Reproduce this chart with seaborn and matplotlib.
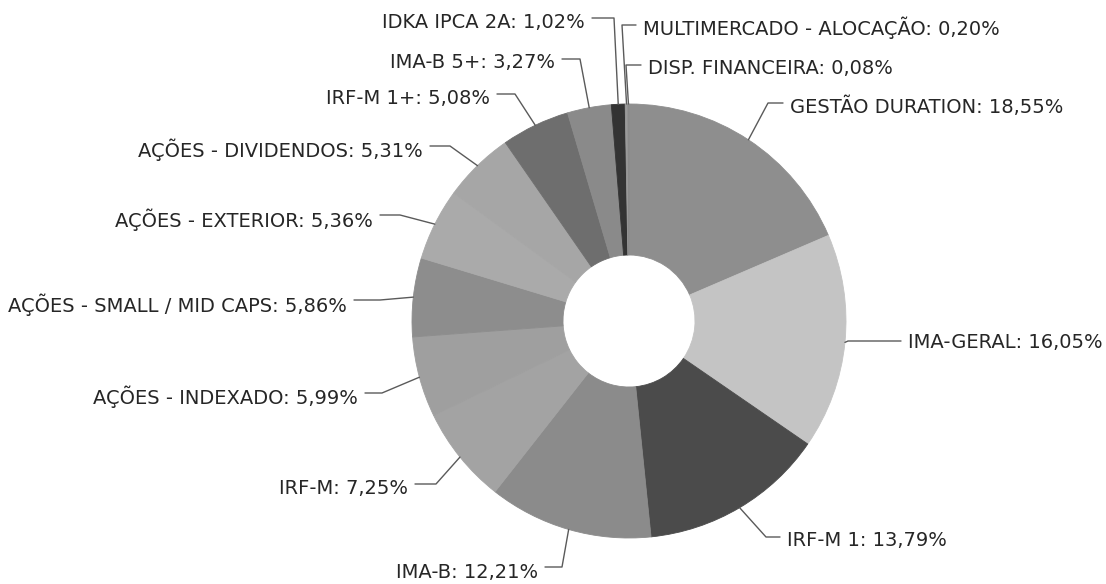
import numpy as np
import matplotlib.pyplot as plt
import seaborn as sns

# dados da carteira
categorias = ["GESTÃO DURATION", "IMA-GERAL", "IRF-M 1", "IMA-B", "IRF-M",
              "AÇÕES - INDEXADO", "AÇÕES - SMALL / MID CAPS", "AÇÕES - EXTERIOR",
              "AÇÕES - DIVIDENDOS", "IRF-M 1+", "IMA-B 5+", "IDKA IPCA 2A",
              "MULTIMERCADO - ALOCAÇÃO", "DISP. FINANCEIRA"]
percentuais = [18.55, 16.05, 13.79, 12.21, 7.25, 5.99, 5.86, 5.36,
               5.31, 5.08, 3.27, 1.02, 0.20, 0.08]
cores = ["#8e8e8e", "#c4c4c4", "#4b4b4b", "#8b8b8b", "#a3a3a3", "#9f9f9f",
         "#8d8d8d", "#aaaaaa", "#a6a6a6", "#6e6e6e", "#8a8a8a", "#333333",
         "#9a9a9a", "#8a8a8a"]

# posicao dos rotulos em pixels: (x texto, y texto, alinhamento, x cotovelo, y cotovelo)
rotulos_pos = [
    (790, 107, "left", 768, 103),
    (908, 343, "left", 848, 341),
    (787, 540, "left", 766, 537),
    (538, 572, "right", 562, 567),
    (408, 488, "right", 436, 484),
    (358, 397, "right", 382, 393),
    (347, 305, "right", 380, 300),
    (373, 220, "right", 400, 215),
    (423, 150, "right", 450, 146),
    (490, 98, "right", 515, 94),
    (555, 63, "right", 580, 59),
    (585, 22, "right", 614, 18),
    (643, 28, "left", 622, 25),
    (648, 68, "left", 626, 65),
]

W, H = 1106, 584
cx, cy, R, r_in = 629, 321, 217, 66

sns.set_theme(style="white")
plt.rcParams['font.family'] = ['DejaVu Sans']

fig = plt.figure(figsize=(W / 100, H / 100), dpi=100)
ax = fig.add_axes([0, 0, 1, 1])

wedges, _ = ax.pie(percentuais, colors=cores, startangle=90, counterclock=False,
                   radius=R, center=(cx, H - cy),
                   wedgeprops=dict(width=R - r_in, linewidth=0.6))
for w in wedges:
    w.set_edgecolor(w.get_facecolor())
ax.set_xlim(0, W)
ax.set_ylim(0, H)
ax.set_aspect("equal")
ax.axis("off")

for w, nome, val, (tx, ty, ha, ex, ey) in zip(wedges, categorias, percentuais, rotulos_pos):
    ang = np.deg2rad((w.theta1 + w.theta2) / 2)
    axp = cx + R * np.cos(ang)
    ayp = (H - cy) + R * np.sin(ang)
    valor = f"{val:.2f}".replace(".", ",")
    ax.text(tx, H - ty, f"{nome}: {valor}%", ha=ha, va="center",
            fontsize=14, color="#262626")
    xs = tx + 7 if ha == "right" else tx - 7
    ax.plot([xs, ex, axp], [H - ey, H - ey, ayp], color="#5a5a5a", lw=1)

plt.savefig("out.png", dpi=100)
